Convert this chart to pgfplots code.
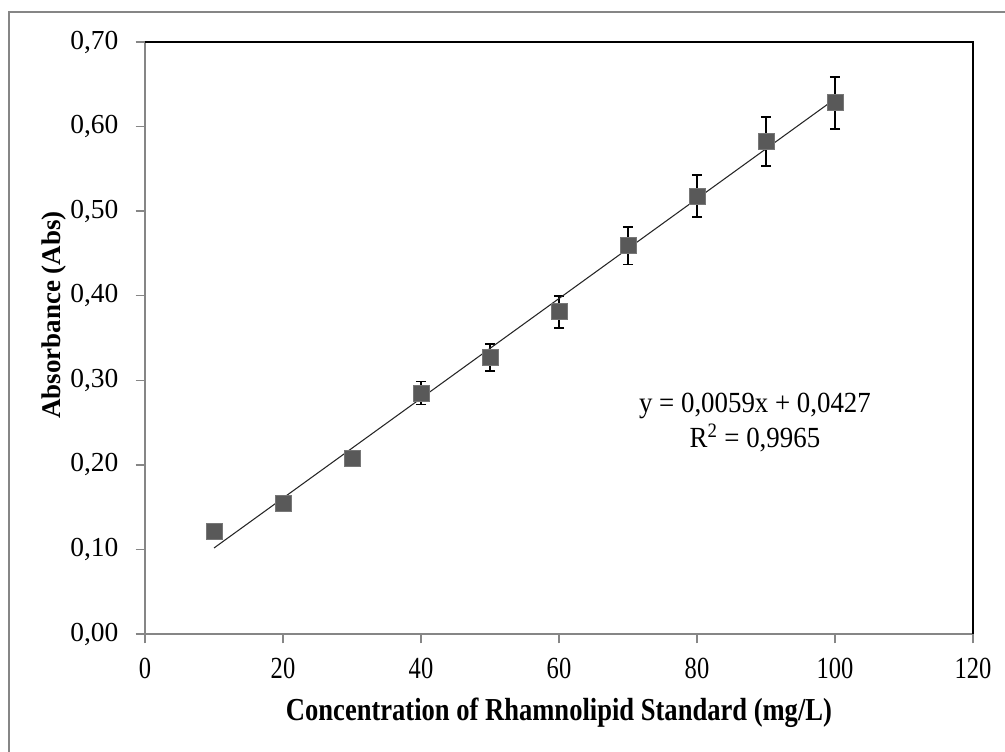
\documentclass[border=0pt]{standalone}
\usepackage{fontspec}
\setmainfont{Liberation Serif}
\newfontfamily\condfont[FakeStretch=0.8]{Liberation Serif}
\newfontfamily\xlabfont[FakeStretch=0.83]{Liberation Serif}
\newfontfamily\eqfont[FakeStretch=0.92]{Liberation Serif}
\usepackage{pgfplots}
\pgfplotsset{compat=1.18}
\definecolor{axgray}{HTML}{868686}
\definecolor{markgray}{HTML}{595959}
\definecolor{markedge}{HTML}{777777}
\pgfplotstableread{
x y err
10 0.121 0.004
20 0.155 0.004
30 0.208 0.008
40 0.285 0.0135
50 0.327 0.016
60 0.381 0.019
70 0.459 0.022
80 0.518 0.025
90 0.582 0.029
100 0.628 0.031
}\datatable
\begin{document}
\begin{tikzpicture}
\useasboundingbox (-108.75pt,-87.75pt) rectangle ++(753.75pt,563.25pt);
\begin{axis}[
  at={(0,0)}, anchor=south west,
  scale only axis, width=621pt, height=444pt,
  xmin=0, xmax=120, ymin=0, ymax=0.70,
  xtick={0,20,...,120},
  ytick={0,0.1,...,0.71},
  axis x line*=bottom, axis y line*=left,
  axis line style={axgray, line width=1.1pt},
  x axis line style={-}, y axis line style={-},
  tick align=outside,
  major tick length=7pt,
  tick style={axgray, line width=1pt},
  /pgf/number format/assume math mode=true,
  yticklabel style={/pgf/number format/.cd, fixed, fixed zerofill, precision=2, use comma, /tikz/.cd,
     font=\fontsize{20.6pt}{24pt}\selectfont, anchor=east, inner sep=0pt, xshift=-12.75pt},
  xticklabel style={font=\condfont\fontsize{23pt}{26pt}\selectfont, anchor=north, inner sep=0pt, yshift=-11pt},
  every axis x label/.style={at={(rel axis cs:0.5,0)}, anchor=center, yshift=-59.25pt,
     font=\xlabfont\bfseries\fontsize{24pt}{26pt}\selectfont},
  every axis y label/.style={at={(rel axis cs:0,0.539)}, rotate=90, anchor=center, yshift=68.25pt,
     font=\bfseries\fontsize{20.25pt}{24pt}\selectfont},
  xlabel={Concentration of Rhamnolipid Standard (mg/L)},
  ylabel={Absorbance (Abs)},
  clip=false,
]
\addplot[only marks, mark=square*, mark size=6pt,
  mark options={fill=markgray, draw=markedge, line width=0.6pt, rounded corners=1.2pt},
  error bars/.cd, y dir=both, y explicit,
  error bar style={black, line width=1.3pt},
  error mark options={rotate=90, mark size=3.9pt, line width=1.3pt, black}]
  table[x=x, y=y, y error=err] {\datatable};
\addplot[no marks, black!85, line width=0.8pt] coordinates {(10,0.1017) (100,0.6327)};
\draw[black, line width=1.1pt] (rel axis cs:0,1) -- (rel axis cs:1,1) -- (rel axis cs:1,0);
\node[align=center, font=\eqfont\fontsize{21.9pt}{26pt}\selectfont] at (axis cs:88.4,0.25)
  {y = 0,0059x + 0,0427\\R\textsuperscript{2} = 0,9965};
\end{axis}
\draw[axgray, line width=1.5pt] (-102pt,-90pt) -- (-102pt,466.5pt) -- (650pt,466.5pt);
\end{tikzpicture}
\end{document}
